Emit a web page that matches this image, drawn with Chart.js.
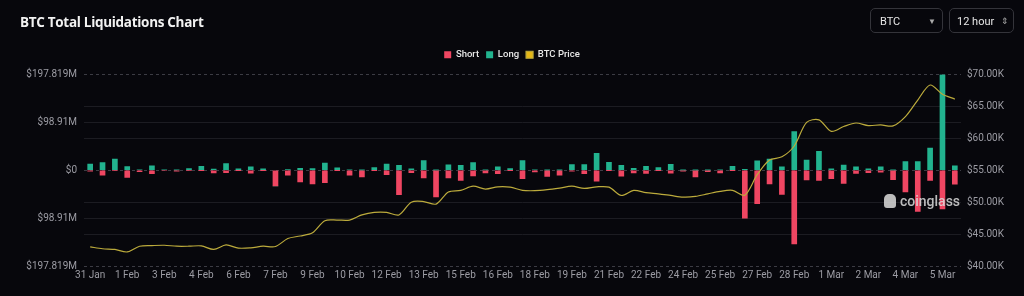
<!DOCTYPE html>
<html>
<head>
<meta charset="utf-8">
<script src="https://cdn.jsdelivr.net/npm/chart.js@4.4.1/dist/chart.umd.min.js"></script>
<style>
  html, body { margin: 0; padding: 0; background: #07070c; }
  #wrap { position: relative; width: 1024px; height: 296px; overflow: hidden; font-family: Roboto, "Open Sans", sans-serif; }
  #chart { position: absolute; left: 0; top: 0; }
  .title { position: absolute; left: 20px; top: 13px; color: #f2f2f2; font: 700 13.5px "Open Sans", sans-serif; letter-spacing: -0.3px; }
  .sel { position: absolute; top: 8px; height: 25px; border: 1px solid #34343a; border-radius: 5px; color: #e6e6e6; font-size: 11px; line-height: 25px; box-sizing: border-box; }
  .sel span { position: absolute; }
  .mark { position: absolute; left: 884px; top: 193px; color: rgba(220,220,220,0.85); font: 500 14px Roboto, sans-serif; }
  .mark i { display: inline-block; width: 12px; height: 14px; background: rgba(220,220,220,0.85); border-radius: 5px 5px 3px 3px; vertical-align: -2px; margin-right: 4px; }
</style>
</head>
<body>
<div id="wrap">
  <canvas id="chart" width="1024" height="296"></canvas>
  <div class="title">BTC Total Liquidations Chart</div>
  <div class="sel" style="left:870px;width:73px;"><span style="left:9px;">BTC</span><span style="left:57px;font-size:8px;color:#aaa;">&#9660;</span></div>
  <div class="sel" style="left:949px;width:65px;"><span style="left:7px;">12 hour</span><span style="left:51px;font-size:9px;color:#aaa;">&#8661;</span></div>
  <div class="mark"><i></i>coinglass</div>
</div>
<script>
// 12 hour buckets, 31 Jan -> 6 Mar
const categories = [
  '31 Jan 00:00','31 Jan 12:00','1 Feb 00:00','1 Feb 12:00','2 Feb 00:00','2 Feb 12:00','3 Feb 00:00','3 Feb 12:00',
  '4 Feb 00:00','4 Feb 12:00','5 Feb 00:00','5 Feb 12:00','6 Feb 00:00','6 Feb 12:00','7 Feb 00:00','7 Feb 12:00',
  '8 Feb 00:00','8 Feb 12:00','9 Feb 00:00','9 Feb 12:00','10 Feb 00:00','10 Feb 12:00','11 Feb 00:00','11 Feb 12:00',
  '12 Feb 00:00','12 Feb 12:00','13 Feb 00:00','13 Feb 12:00','14 Feb 00:00','14 Feb 12:00','15 Feb 00:00','15 Feb 12:00',
  '16 Feb 00:00','16 Feb 12:00','17 Feb 00:00','17 Feb 12:00','18 Feb 00:00','18 Feb 12:00','19 Feb 00:00','19 Feb 12:00',
  '20 Feb 00:00','20 Feb 12:00','21 Feb 00:00','21 Feb 12:00','22 Feb 00:00','22 Feb 12:00','23 Feb 00:00','23 Feb 12:00',
  '24 Feb 00:00','24 Feb 12:00','25 Feb 00:00','25 Feb 12:00','26 Feb 00:00','26 Feb 12:00','27 Feb 00:00','27 Feb 12:00',
  '28 Feb 00:00','28 Feb 12:00','29 Feb 00:00','29 Feb 12:00','1 Mar 00:00','1 Mar 12:00','2 Mar 00:00','2 Mar 12:00',
  '3 Mar 00:00','3 Mar 12:00','4 Mar 00:00','4 Mar 12:00','5 Mar 00:00','5 Mar 12:00','6 Mar 00:00'
];

// tick labels shown under the x axis (every 3rd bucket)
const xTickLabels = ['31 Jan','1 Feb','3 Feb','4 Feb','6 Feb','7 Feb','9 Feb','10 Feb','12 Feb','13 Feb','15 Feb','16 Feb',
  '18 Feb','19 Feb','21 Feb','22 Feb','24 Feb','25 Feb','27 Feb','28 Feb','1 Mar','2 Mar','4 Mar','5 Mar'];

// liquidations in $M (short drawn below zero)
const shortLiq = [
  -2, -10.4, -0.5, -14.6, -2.8, -7, -1, -2, -0.5, -0.3, -5.5, -4.9, -0.3, -6.2, -0.3, -32.6,
  -10.4, -24, -28, -25.7, -0.3, -10.4, -14, -0.3, -9, -50.6, -4.9, -16, -55, -16, -21, -11.8,
  -5.6, -7, -0.3, -17.4, -3.5, -12.5, -10.4, -2, -7, -22.5, -0.3, -12, -5.5, -6.5, -0.3, -6,
  -2, -14, -2.8, -5.5, -0.3, -99, -69, -28, -50, -152, -20, -21, -17.5, -27, -6.3, -5, -4,
  -19.6, -45, -85, -21, -80, -29
];
const longLiq = [
  12.5, 16, 23, 7.6, 1, 9, 1, 0.8, 3.5, 8.3, 2.5, 14, 2.8, 7, 2.8, 0,
  1.4, 4, 3.5, 15, 4.9, 1, 0.3, 5.5, 12.5, 10.4, 2.8, 20, 0.3, 11, 10.4, 16,
  0.5, 7, 3.5, 20, 1, 0.3, 0.3, 11.8, 11.8, 34.7, 16.6, 10.4, 4, 8.3, 5.5, 12,
  0.3, 0.3, 0.3, 1, 8.3, 2, 19.6, 23, 7, 80, 21, 39, 3, 10.5, 7, 3, 7,
  0.3, 18, 18, 46, 197.819, 9
];
// BTC price in $K
const btcPrice = [
  43.0, 42.7, 42.6, 42.2, 43.1, 43.2, 43.25, 43.1, 43.1, 43.15, 42.6, 43.3, 42.8, 42.85, 43.1, 43.05,
  44.3, 44.7, 45.2, 47.1, 47.2, 47.2, 48.0, 48.4, 48.4, 48.0, 50.0, 50.1, 49.7, 51.6, 51.85, 52.5,
  52.05, 52.4, 52.35, 51.85, 51.8, 51.95, 52.2, 52.5, 52.15, 52.4, 52.35, 51.05, 51.85, 51.5, 51.3, 51.05,
  50.8, 50.9, 51.3, 51.7, 51.85, 51.1, 54.3, 56.6, 57.1, 58.8, 62.5, 62.9, 61.1, 61.85, 62.4, 62.0, 62.1,
  61.95, 63.4, 66.0, 68.35, 66.9, 66.15
];

const leftTicks = [-197.819, -98.91, 0, 98.91, 197.819];
const rightTicks = [40, 45, 50, 55, 60, 65, 70];

const gridFaint = '#1c1c22';
const gridDash = '#3c3c44';
const tickColor = '#9c9ca4';

// adds some room under the legend row
const legendGap = {
  id: 'legendGap',
  beforeLayout(chart) {
    const lg = chart.legend;
    if (lg && !lg._gapPatched) {
      const fit = lg.fit;
      lg.fit = function () { fit.call(this); this.height += 5; };
      lg._gapPatched = true;
    }
  }
};

const ctx = document.getElementById('chart').getContext('2d');
new Chart(ctx, {
  type: 'bar',
  data: {
    labels: categories,
    datasets: [
      { label: 'Short', data: shortLiq, backgroundColor: '#ef4662', yAxisID: 'y', barThickness: 5, order: 1 },
      { label: 'Long', data: longLiq, backgroundColor: '#22b38f', yAxisID: 'y', barThickness: 5, order: 1 },
      { label: 'BTC Price', type: 'line', data: btcPrice, yAxisID: 'y1', borderColor: '#bcab3c',
        backgroundColor: '#e5b616', borderWidth: 1.2, pointRadius: 0, tension: 0.3, order: 0 }
    ]
  },
  plugins: [legendGap],
  options: {
    responsive: false,
    animation: false,
    layout: { padding: { top: 43, left: 0, right: 0, bottom: 12 } },
    plugins: {
      legend: {
        position: 'top',
        labels: {
          color: '#e8e8e8', font: { family: 'Roboto', size: 9.5, weight: '500' }, boxWidth: 7, boxHeight: 7, padding: 7,
          sort: (a, b) => a.datasetIndex - b.datasetIndex
        }
      },
      tooltip: { enabled: false }
    },
    scales: {
      x: {
        stacked: true,
        grid: { display: false, drawTicks: false },
        border: { display: false },
        ticks: {
          color: tickColor, font: { family: 'Roboto', size: 10 }, autoSkip: false, maxRotation: 0, padding: 3,
          callback: (v, i) => (i % 3 === 0 ? xTickLabels[i / 3] : '')
        }
      },
      y: {
        stacked: true,
        position: 'left',
        min: -197.819, max: 197.819,
        afterBuildTicks: s => { s.ticks = leftTicks.map(v => ({ value: v })); },
        afterFit: s => { s.width = 84; },
        grid: { color: c => (c.index % 2 === 0 ? gridDash : gridFaint), lineWidth: 1, drawTicks: false },
        border: { display: false, dash: c => (c.index % 2 === 0 ? [3, 3] : []) },
        ticks: {
          color: tickColor, font: { family: 'Roboto', size: 10 }, padding: 7,
          callback: v => (v === 0 ? '$0' : '$' + Math.abs(v) + 'M')
        }
      },
      y1: {
        position: 'right',
        min: 40, max: 70,
        afterBuildTicks: s => { s.ticks = rightTicks.map(v => ({ value: v })); },
        afterFit: s => { s.width = 63; },
        grid: { color: c => ([40, 55, 70].includes(c.tick.value) ? 'rgba(0,0,0,0)' : gridFaint), drawTicks: false },
        border: { display: false },
        ticks: {
          color: tickColor, font: { family: 'Roboto', size: 10 }, padding: 6,
          callback: v => '$' + v.toFixed(2) + 'K'
        }
      }
    }
  }
});
</script>
</body>
</html>
